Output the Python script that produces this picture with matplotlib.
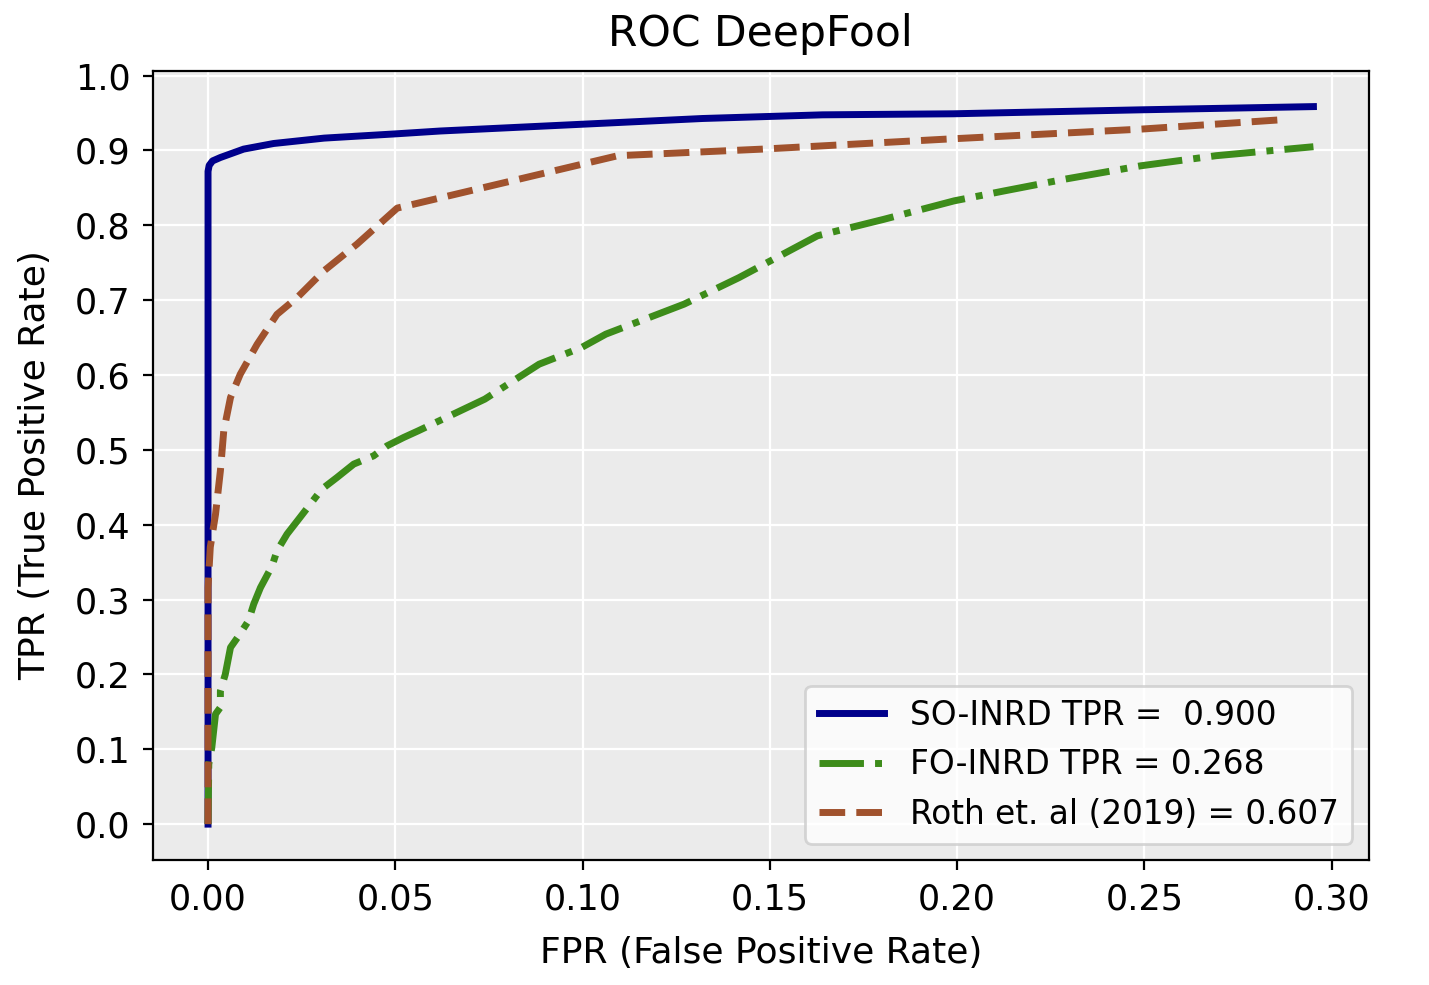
import matplotlib
matplotlib.use("Agg")
import matplotlib.pyplot as plt

# values
so_fpr = [0.0, 0.0, 0.0003, 0.0012, 0.0033, 0.0095, 0.0175, 0.031, 0.0495, 0.062,
          0.0997, 0.132, 0.164, 0.199, 0.249, 0.2951]
so_tpr = [0.0, 0.872, 0.880, 0.886, 0.8906, 0.9018, 0.9093, 0.9165, 0.922, 0.926,
          0.935, 0.9427, 0.9476, 0.949, 0.9543, 0.9586]

fo_fpr = [0.0, 0.0002, 0.001, 0.002, 0.0033, 0.0033, 0.0046, 0.006, 0.0082, 0.0108,
          0.0122, 0.014, 0.0171, 0.0184, 0.0211, 0.0246, 0.0273, 0.0304, 0.0344, 0.0389,
          0.0442, 0.0478, 0.0522, 0.0561, 0.0739, 0.0884, 0.0997, 0.1062, 0.1271, 0.1417,
          0.1627, 0.1804, 0.1992, 0.2126, 0.2288, 0.249, 0.2691, 0.2951]
fo_tpr = [0.0, 0.08, 0.102, 0.147, 0.156, 0.178, 0.2, 0.236, 0.2516, 0.2716,
          0.294, 0.316, 0.345, 0.365, 0.3875, 0.41, 0.4275, 0.4476, 0.463, 0.481,
          0.492, 0.5054, 0.5165, 0.5254, 0.5678, 0.6145, 0.6367, 0.6546, 0.6947, 0.730,
          0.786, 0.808, 0.8327, 0.846, 0.8617, 0.8795, 0.893, 0.905]

roth_fpr = [0.0, 0.0, 0.0006, 0.002, 0.0033, 0.0042, 0.006, 0.0086, 0.0131, 0.0184,
            0.0238, 0.0309, 0.0398, 0.0505, 0.1094, 0.148, 0.1965, 0.249, 0.2865]
roth_tpr = [0.0, 0.316, 0.37, 0.414, 0.472, 0.5255, 0.57, 0.601, 0.641, 0.681,
            0.7035, 0.739, 0.775, 0.823, 0.893, 0.9018, 0.915, 0.9285, 0.941]

labels = ["SO-INRD TPR =  0.900", "FO-INRD TPR = 0.268", "Roth et. al (2019) = 0.607"]

fig = plt.figure(figsize=(7.145, 4.925), dpi=200)
ax = fig.add_axes([0.1069, 0.1269, 0.8509, 0.8013])
ax.set_facecolor("#EBEBEB")
ax.grid(True, color="white", linewidth=0.8)
ax.set_axisbelow(True)

ax.plot(so_fpr, so_tpr, color="darkblue", linewidth=2.5, linestyle="-", label=labels[0])
ax.plot(fo_fpr, fo_tpr, color="#3D8C1A", linewidth=2.5, linestyle="-.", label=labels[1])
ax.plot(roth_fpr, roth_tpr, color="sienna", linewidth=2.5, linestyle="--", label=labels[2])

ax.set_yticks([0.0, 0.1, 0.2, 0.3, 0.4, 0.5, 0.6, 0.7, 0.8, 0.9, 1.0])
ax.tick_params(labelsize=12.6, pad=4.5)
ax.set_xlabel("FPR (False Positive Rate)", fontsize=13, labelpad=7)
ax.set_ylabel("TPR (True Positive Rate)", fontsize=13, labelpad=8)
ax.set_title("ROC DeepFool", fontsize=15.3, pad=9)
ax.legend(loc="lower right", fontsize=11.8)

fig.savefig("out.png", dpi=200)
